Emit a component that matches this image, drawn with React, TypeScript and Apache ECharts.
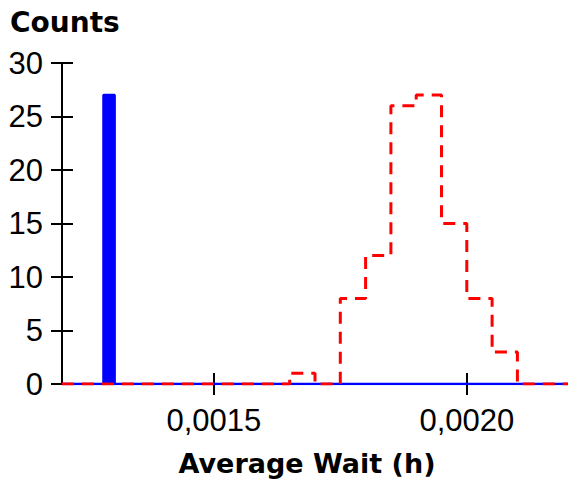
import React, { useEffect, useRef } from "react";
import * as echarts from "echarts";

const xTickValues = [0.0015, 0.002];
const xMin = 0.0012;
const xMax = 0.0022;
const yMin = 0;
const yMax = 30;
const yStep = 5;

// red histogram (dashed step outline): left edges and counts
const redEdges = [0.0012, 0.00165, 0.0017, 0.00175, 0.0018, 0.00185, 0.0019, 0.00195, 0.002, 0.00205, 0.0021, 0.0022];
const redCounts = [0, 1, 0, 8, 12, 26, 27, 15, 8, 3, 0, 0];

// blue histogram (filled bar)
const blueEdges = [0.0012, 0.001282, 0.001304, 0.0022];
const blueCounts = [0, 27, 0, 0];

const FONT = "'Liberation Sans', Arial, Helvetica, sans-serif";
const BOLD_FONT = "'DejaVu Sans', 'Liberation Sans', Arial, sans-serif";

export default function App() {
  const ref = useRef<HTMLDivElement>(null);
  useEffect(() => {
    if (!ref.current) return;
    const chart = echarts.init(ref.current, null, { renderer: "svg" });
    const redData = redEdges.map((e, i) => [e, redCounts[i]]);
    const blueData = blueEdges.map((e, i) => [e, blueCounts[i]]);
    const fmt = (v: number) => v.toFixed(4).replace(".", ",");
    chart.setOption({
      animation: false,
      textStyle: { fontFamily: FONT },
      grid: { left: 62, right: -1, top: 63, bottom: 104, containLabel: false },
      graphic: [
        {
          type: "text",
          x: 10,
          y: 22,
          style: {
            text: "Counts",
            font: `bold 28px ${BOLD_FONT}`,
            fill: "#000",
            align: "left",
            verticalAlign: "middle",
          },
        },
        {
          type: "text",
          x: 307,
          y: 463,
          style: {
            text: "Average Wait (h)",
            font: `bold 27px ${BOLD_FONT}`,
            fill: "#000",
            align: "center",
            verticalAlign: "middle",
          },
        },
      ],
      xAxis: [
        {
          type: "value",
          min: xMin,
          max: xMax,
          axisLine: { show: false },
          splitLine: { show: false },
          axisTick: {
            show: true,
            customValues: xTickValues,
            length: 11,
            lineStyle: { color: "#000", width: 2 },
          },
          axisLabel: {
            customValues: xTickValues,
            formatter: fmt,
            fontSize: 31,
            color: "#000",
            margin: 21,
            fontFamily: FONT,
          },
        },
        {
          type: "value",
          min: xMin,
          max: xMax,
          position: "bottom",
          axisLine: { show: false },
          splitLine: { show: false },
          axisTick: {
            show: true,
            inside: true,
            customValues: xTickValues,
            length: 11,
            lineStyle: { color: "#000", width: 2 },
          },
          axisLabel: { show: false },
        },
      ],
      yAxis: [
        {
          type: "value",
          min: yMin,
          max: yMax,
          interval: yStep,
          axisLine: { show: true, lineStyle: { color: "#000", width: 2 } },
          splitLine: { show: false },
          axisTick: { show: true, length: 11, lineStyle: { color: "#000", width: 2 } },
          axisLabel: { fontSize: 31, color: "#000", margin: 19, fontFamily: FONT },
        },
        {
          type: "value",
          min: yMin,
          max: yMax,
          interval: yStep,
          position: "left",
          axisLine: { show: false },
          splitLine: { show: false },
          axisTick: { show: true, inside: true, length: 11, lineStyle: { color: "#000", width: 2 } },
          axisLabel: { show: false },
        },
      ],
      series: [
        {
          type: "line",
          xAxisIndex: 0,
          yAxisIndex: 0,
          data: blueData,
          step: "end",
          symbol: "none",
          lineStyle: { color: "#0000ff", width: 2.5 },
          areaStyle: { color: "#0000ff", opacity: 1 },
          z: 2,
        },
        {
          type: "line",
          xAxisIndex: 0,
          yAxisIndex: 0,
          data: redData,
          step: "end",
          symbol: "none",
          lineStyle: { color: "#ff0000", width: 3, type: [12, 8] },
          z: 3,
        },
      ],
    });
    return () => chart.dispose();
  }, []);
  return (
    <div
      ref={ref}
      style={{ position: "absolute", left: 0, top: 0, width: 568, height: 488 }}
    />
  );
}
